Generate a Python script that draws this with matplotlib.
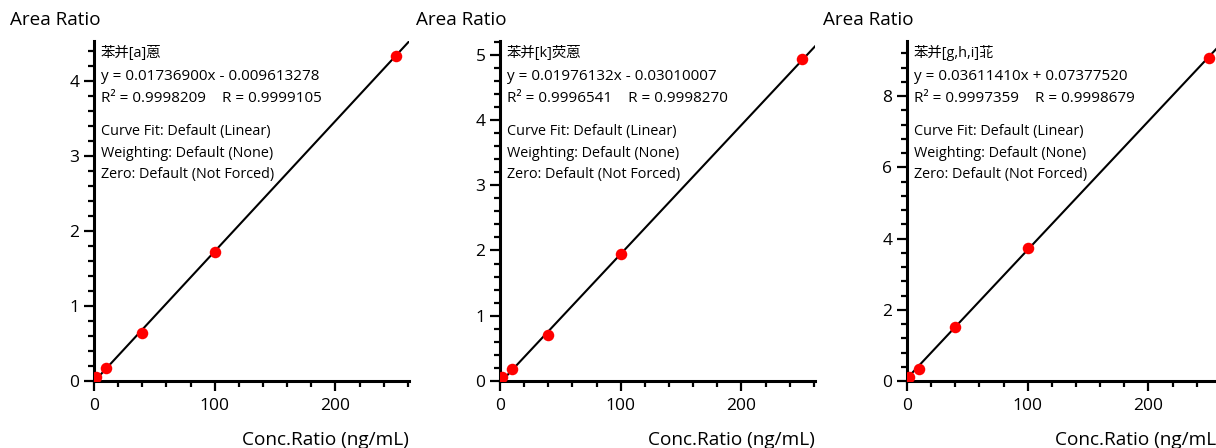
import matplotlib
matplotlib.use("Agg")
import matplotlib.pyplot as plt
from matplotlib.ticker import MultipleLocator

plt.rcParams['font.family'] = ['Open Sans', 'Noto Sans CJK SC', 'DejaVu Sans']

# calibration data, one list per compound
names = ["苯并[a]蒽", "苯并[k]荧蒽", "苯并[g,h,i]苝"]
conc = [2, 10, 40, 100, 250]
area_a = [0.05, 0.17, 0.64, 1.72, 4.33]
area_k = [0.06, 0.19, 0.70, 1.95, 4.93]
area_ghi = [0.11, 0.34, 1.51, 3.74, 9.06]
slopes = [0.01736900, 0.01976132, 0.03611410]
intercepts = [-0.009613278, -0.03010007, 0.07377520]
eq_texts = ["y = 0.01736900x - 0.009613278",
            "y = 0.01976132x - 0.03010007",
            "y = 0.03611410x + 0.07377520"]
r_texts = ["R² = 0.9998209    R = 0.9999105",
           "R² = 0.9996541    R = 0.9998270",
           "R² = 0.9997359    R = 0.9998679"]
fit_info = ["Curve Fit: Default (Linear)", "Weighting: Default (None)",
            "Zero: Default (Not Forced)"]
ymax = [4.53, 5.21, 9.55]
ymajor = [1, 1, 2]
yminor = [0.2, 0.2, 0.4]
xmax = 261

areas = [area_a, area_k, area_ghi]

W, H = 1216, 448
fig = plt.figure(figsize=(W / 100, H / 100), dpi=100)
lefts = [94, 500, 907]

for i in range(3):
    ax = fig.add_axes([lefts[i] / W, 67 / H, 315 / W, 340 / H])
    ax.set_xlim(0, xmax)
    ax.set_ylim(0, ymax[i])
    xs = [0, xmax + 10]
    ax.plot(xs, [slopes[i] * x + intercepts[i] for x in xs], color='black', lw=1.5, zorder=2)
    ax.plot(conc, areas[i], 'o', color='#ff0000', ms=8.3, mec='none', zorder=3)

    for s in ['top', 'right']:
        ax.spines[s].set_visible(False)
    for s in ['left', 'bottom']:
        ax.spines[s].set_linewidth(2.2)
    ax.xaxis.set_major_locator(MultipleLocator(100))
    ax.xaxis.set_minor_locator(MultipleLocator(20))
    ax.yaxis.set_major_locator(MultipleLocator(ymajor[i]))
    ax.yaxis.set_minor_locator(MultipleLocator(yminor[i]))
    ax.tick_params(which='major', length=7.5, width=1.6, labelsize=12.5, pad=3, colors='black')
    ax.tick_params(which='minor', length=4, width=1.6)
    ax.tick_params(axis='x', which='major', pad=5)

    ax.annotate("Area Ratio", xy=(0, 1), xycoords='axes fraction', xytext=(-84, 21),
                textcoords='offset pixels', ha='left', va='center', fontsize=13.6)
    ax.annotate("Conc.Ratio (ng/mL)", xy=(1, 0), xycoords='axes fraction', xytext=(0, -59),
                textcoords='offset pixels', ha='right', va='center', fontsize=13.7)

    lines = [(names[i], 10.4), (eq_texts[i], 11), (r_texts[i], 11)]
    lines += [(t, 10.4) for t in fit_info]
    offs = [-12, -35, -57, -90, -112, -133]
    for (txt, fs), dy in zip(lines, offs):
        ax.annotate(txt, xy=(0, 1), xycoords='axes fraction', xytext=(7, dy),
                    textcoords='offset pixels', ha='left', va='center', fontsize=fs)

fig.savefig("out.png", dpi=100)
